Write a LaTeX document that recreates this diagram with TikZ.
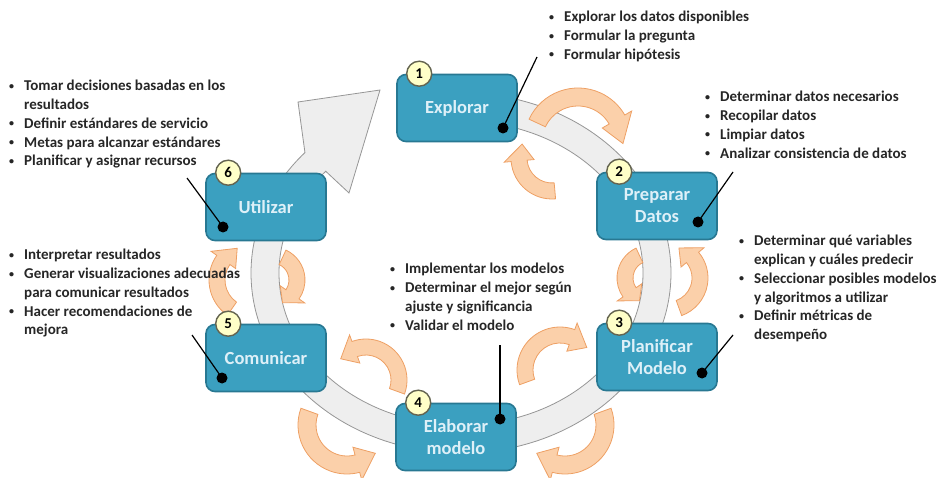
\documentclass[tikz,border=0pt]{standalone}
\usepackage{fontspec}
\setmainfont{Carlito}
\usetikzlibrary{calc}

\definecolor{boxfill}{RGB}{59,160,192}
\definecolor{boxline}{RGB}{40,120,146}
\definecolor{boxtext}{RGB}{222,240,248}
\definecolor{bandfill}{RGB}{238,238,238}
\definecolor{bandline}{RGB}{150,150,150}
\definecolor{arrfill}{RGB}{251,208,170}
\definecolor{arrline}{RGB}{238,160,100}
\definecolor{numfill}{RGB}{255,255,200}
\definecolor{numline}{RGB}{100,100,80}

\tikzset{
  stage/.style={draw=boxline, line width=1.6pt, fill=boxfill, rounded corners=9pt,
    minimum width=120pt, minimum height=67pt, text=boxtext,
    font=\fontsize{18.5}{22}\selectfont\bfseries, align=center, inner sep=0pt},
  badge/.style={circle, draw=numline, line width=1.4pt, fill=numfill, minimum size=25pt,
    inner sep=0pt, font=\fontsize{15}{15}\selectfont\bfseries},
  notes/.style={anchor=north west, inner sep=0pt, align=left, text=black!85,
    font=\fontsize{15}{18.8}\selectfont\bfseries},
  band/.style={fill=bandfill, draw=bandline, line width=0.8pt},
  turn/.style={fill=arrfill, draw=arrline, line width=0.8pt},
  callout/.style={line width=1.2pt},
}

\newcommand\itm[1]{\makebox[16pt][l]{\hspace{1pt}\raisebox{1.5pt}{\fontsize{10}{10}\selectfont\textbullet}}#1}
\newcommand\cnt[1]{\hspace*{16pt}#1}

% bent arrow: centre, radius, tail angle, head base angle, tip angle, half width, head half width
\newcommand\bentarrow[7]{%
  \pgfmathsetmacro\ro{#2+#6}\pgfmathsetmacro\ri{#2-#6}%
  \pgfmathsetmacro\ho{#2+#7}\pgfmathsetmacro\hi{#2-#7}%
  \filldraw[turn] ($(#1)+(#3:\ro)$) arc[start angle=#3, end angle=#4, radius=\ro]
    -- ($(#1)+(#4:\ho)$) -- ($(#1)+(#5:#2)$) -- ($(#1)+(#4:\hi)$)
    -- ($(#1)+(#4:\ri)$) arc[start angle=#4, end angle=#3, radius=\ri] -- cycle;}

\begin{document}
\begin{tikzpicture}[x=1pt, y=-1pt]

    \useasboundingbox (0,0) rectangle (942,478);

    % ring
    \coordinate (ring) at (461,273);
    \coordinate (wingout) at (298,102);
    \coordinate (wingtip) at (380,90);
    \coordinate (wingin) at (349,193);
    \filldraw[band] ($(ring)+(-90:210 and 180)$) arc[start angle=-90, end angle=222, x radius=210, y radius=180]
        -- (wingout) -- (wingtip) -- (wingin)
        -- ($(ring)+(222:182 and 152)$) arc[start angle=222, end angle=-90, x radius=182, y radius=152] -- cycle;

    % turning arrows, outer and inner
    \coordinate (a12) at (578,142);  \coordinate (b12) at (552,158);
    \coordinate (a23) at (668,278);  \coordinate (b23) at (650,278);
    \coordinate (a34) at (565,425);  \coordinate (b34) at (560,370);
    \coordinate (a45) at (347,425);  \coordinate (b45) at (366,380);
    \coordinate (a56) at (252,280);  \coordinate (b56) at (272,280);

    \bentarrow{a12}{45}{205}{330}{362}{9}{17}
    \bentarrow{b12}{33}{85}{175}{205}{8}{15}
    \bentarrow{a23}{32}{70}{-40}{-70}{8}{15}
    \bentarrow{b23}{25}{245}{145}{115}{8}{15}
    \bentarrow{a34}{40}{-20}{105}{135}{9}{17}
    \bentarrow{b34}{35}{160}{290}{320}{8}{15}
    \bentarrow{a45}{40}{200}{75}{45}{9}{17}
    \bentarrow{b45}{33}{20}{-110}{-140}{8}{15}
    \bentarrow{a56}{35}{125}{215}{245}{8}{15}
    \bentarrow{b56}{25}{-65}{35}{65}{8}{15}

    % stages
    \node[stage] (explorar) at (457,108) {Explorar};
    \node[stage] (preparar) at (657,206) {Preparar\\Datos};
    \node[stage] (planificar) at (657,357) {Planificar\\Modelo};
    \node[stage] (elaborar) at (456,437) {Elaborar\\modelo};
    \node[stage] (comunicar) at (266,358) {Comunicar};
    \node[stage] (utilizar) at (266,207) {Utilizar};

    \foreach \b/\n in {explorar/1, preparar/2, planificar/3, elaborar/4, comunicar/5, utilizar/6}
        \node[badge] (num\n) at ($(\b.north west)+(23,0)$) {\n};

    % notes
    \node[notes] (txt1) at (548,11) {\itm{Explorar los datos disponibles}\\\itm{Formular la pregunta}\\\itm{Formular hipótesis}};
    \node[notes] (txt2) at (704,91) {\itm{Determinar datos necesarios}\\\itm{Recopilar datos}\\\itm{Limpiar datos}\\\itm{Analizar consistencia de datos}};
    \node[notes] (txt3) at (738,235) {\itm{Determinar qué variables}\\\cnt{explican y cuáles predecir}\\\itm{Seleccionar posibles modelos}\\\cnt{y algoritmos a utilizar}\\\itm{Definir métricas de}\\\cnt{desempeño}};
    \node[notes] (txt4) at (389,263) {\itm{Implementar los modelos}\\\itm{Determinar el mejor según}\\\cnt{ajuste y significancia}\\\itm{Validar el modelo}};
    \node[notes] (txt5) at (8,249) {\itm{Interpretar resultados}\\\itm{Generar visualizaciones adecuadas}\\\cnt{para comunicar resultados}\\\itm{Hacer recomendaciones de}\\\cnt{mejora}};
    \node[notes] (txt6) at (8,80) {\itm{Tomar decisiones basadas en los}\\\cnt{resultados}\\\itm{Definir estándares de servicio}\\\itm{Metas para alcanzar estándares}\\\itm{Planificar y asignar recursos}};

    % callouts
    \coordinate (dot1) at (503,128);  \coordinate (tag1) at (537,57);
    \coordinate (dot2) at (698,222);  \coordinate (tag2) at (733,172);
    \coordinate (dot3) at (702,373);  \coordinate (tag3) at (733,335);
    \coordinate (dot4) at (500,419);  \coordinate (tag4) at (500,345);
    \coordinate (dot5) at (222,378);  \coordinate (tag5) at (192,335);
    \coordinate (dot6) at (223,227);  \coordinate (tag6) at (187,178);
    \foreach \i in {1,...,6} {
        \draw[callout] (dot\i) -- (tag\i);
        \fill (dot\i) circle (5.5);
    }

\end{tikzpicture}
\end{document}
